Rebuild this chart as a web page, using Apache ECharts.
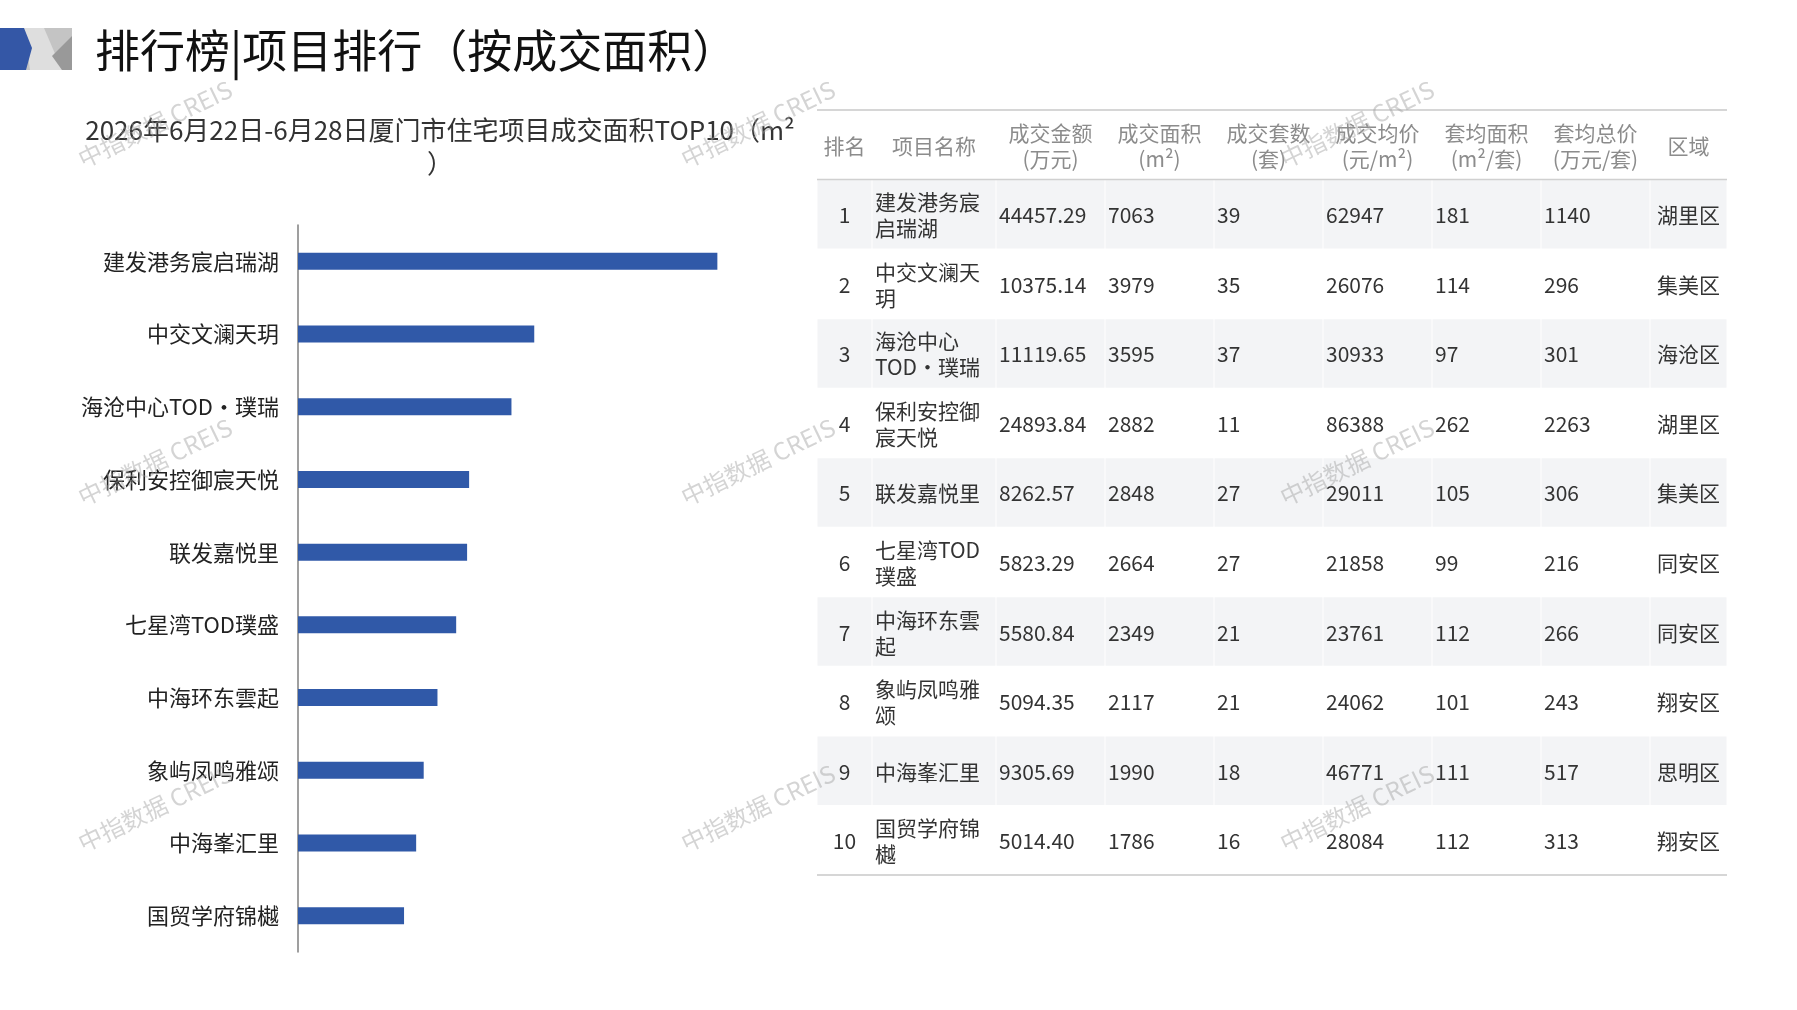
<!DOCTYPE html>
<html>
<head>
<meta charset="utf-8">
<script src="https://cdn.jsdelivr.net/npm/echarts@6/dist/echarts.min.js"></script>
<style>
  html, body { margin: 0; padding: 0; background: #fff; }
  #main { width: 1797px; height: 1010px; }
</style>
</head>
<body>
<div id="main"></div>
<script>
// 项目名称（按成交面积排序）
var projects = ['建发港务宸启瑞湖', '中交文澜天玥', '海沧中心TOD·璞瑞', '保利安控御宸天悦', '联发嘉悦里',
  '七星湾TOD璞盛', '中海环东雲起', '象屿凤鸣雅颂', '中海峯汇里', '国贸学府锦樾'];
var amount = [44457.29, 10375.14, 11119.65, 24893.84, 8262.57, 5823.29, 5580.84, 5094.35, 9305.69, 5014.40];
var area = [7063, 3979, 3595, 2882, 2848, 2664, 2349, 2117, 1990, 1786];
var units = [39, 35, 37, 11, 27, 27, 21, 21, 18, 16];
var price = [62947, 26076, 30933, 86388, 29011, 21858, 23761, 24062, 46771, 28084];
var avgArea = [181, 114, 97, 262, 105, 99, 112, 101, 111, 112];
var avgTotal = [1140, 296, 301, 2263, 306, 216, 266, 243, 517, 313];
var district = ['湖里区', '集美区', '海沧区', '湖里区', '集美区', '同安区', '同安区', '翔安区', '思明区', '翔安区'];
var headers = ['排名', '项目名称', '成交金额\n(万元)', '成交面积\n(m²)', '成交套数\n(套)', '成交均价\n(元/m²)',
  '套均面积\n(m²/套)', '套均总价\n(万元/套)', '区域'];

// 表格列宽（像素）
var colW = [55, 124, 109, 109, 109, 109, 109, 109, 77];
var colX = [];
colW.reduce(function (s, w) { colX.push(s); return s + w; }, 0);
var colAlign = ['center', 'left', 'left', 'left', 'left', 'left', 'left', 'left', 'center'];

var FONT = '"Noto Sans CJK SC", "Noto Sans", sans-serif';

// 单元格数据
var cells = [];
var cellText = [];
headers.forEach(function (h, c) { cells.push([c, -1]); cellText.push(h); });
projects.forEach(function (p, r) {
  var row = [String(r + 1), p, amount[r].toFixed(2), area[r], units[r], price[r], avgArea[r], avgTotal[r], district[r]];
  row.forEach(function (v, c) { cells.push([c, r]); cellText.push(String(v)); });
});

var chart = echarts.init(document.getElementById('main'));

// 水印
var marks = [];
[155, 758, 1357].forEach(function (x) {
  [124, 462, 808].forEach(function (y) {
    marks.push({
      type: 'text', x: x, y: y, rotation: 0.45, z: 100, silent: true,
      style: { text: '中指数据 CREIS', font: '24px ' + FONT, fill: 'rgba(160,160,160,0.45)',
        align: 'center', verticalAlign: 'middle', textAlign: 'center', textVerticalAlign: 'middle' }
    });
  });
});

var option = {
  animation: false,
  title: [
    { text: '排行榜|项目排行（按成交面积）', left: 90, top: 23,
      textStyle: { fontSize: 45, fontWeight: 'normal', color: '#111', fontFamily: FONT } },
    { text: '2026年6月22日-6月28日厦门市住宅项目成交面积TOP10（m²\n）', left: 435, top: 109, textAlign: 'center',
      textStyle: { fontSize: 26, fontWeight: 'normal', color: '#333', lineHeight: 33, fontFamily: FONT } }
  ],
  graphic: [
    { type: 'group', children: [
      { type: 'rect', shape: { x: 0, y: 28, width: 72, height: 42 }, style: { fill: '#c4c4c4' } },
      { type: 'polygon', shape: { points: [[24, 28], [44, 28], [62, 70], [30, 70]] }, style: { fill: '#dedede' } },
      { type: 'polygon', shape: { points: [[72, 36], [72, 70], [62, 70], [52, 56]] }, style: { fill: '#999' } },
      { type: 'polygon', shape: { points: [[0, 28], [24, 28], [32, 48], [26, 70], [0, 70]] }, style: { fill: '#3457a6' } }
    ] }
  ].concat(marks),
  grid: [
    { left: 298, top: 225, width: 475, height: 727 },
    { left: 817, top: 110, width: 910, height: 765 }
  ],
  xAxis: [
    { type: 'value', gridIndex: 0, min: 0, max: 8000, show: false },
    { type: 'value', gridIndex: 1, min: 0, max: 910, show: false }
  ],
  yAxis: [
    { type: 'category', gridIndex: 0, data: projects, inverse: true,
      axisLine: { lineStyle: { color: '#7f7f7f', width: 1.5 } },
      axisTick: { inside: true, length: 5, lineStyle: { color: '#7f7f7f', width: 1.5 } },
      axisLabel: { fontSize: 22, color: '#222', margin: 19, fontFamily: FONT } },
    { type: 'value', gridIndex: 1, min: -1, max: 10, inverse: true, show: false }
  ],
  series: [
    { type: 'bar', xAxisIndex: 0, yAxisIndex: 0, data: area, barWidth: 17,
      itemStyle: { color: '#3059a8' } },
    { type: 'custom', xAxisIndex: 1, yAxisIndex: 1, data: cells, silent: true,
      renderItem: function (params, api) {
        var c = api.value(0), r = api.value(1);
        var p0 = api.coord([colX[c], r]);
        var p1 = api.coord([colX[c] + colW[c], r + 1]);
        var w = p1[0] - p0[0], h = p1[1] - p0[1];
        var isHead = r < 0;
        var align = isHead ? 'center' : colAlign[c];
        var tx = align === 'center' ? p0[0] + w / 2 : p0[0] + 3;
        var children = [];
        if (!isHead && r % 2 === 0) {
          children.push({ type: 'rect', shape: { x: p0[0] + 0.5, y: p0[1] + 0.5, width: w - 1, height: h - 1 },
            style: { fill: '#f3f4f6' } });
        }
        children.push({ type: 'text', style: {
          text: cellText[params.dataIndex], x: tx, y: p0[1] + h / 2 + 1,
          align: align, textAlign: align, verticalAlign: 'middle', textVerticalAlign: 'middle',
          font: '21px ' + FONT, fill: isHead ? '#8c8c8c' : '#333', lineHeight: 26,
          width: c === 1 ? 121 : undefined, overflow: c === 1 ? 'break' : undefined
        } });
        return { type: 'group', children: children };
      } },
    { type: 'custom', xAxisIndex: 1, yAxisIndex: 1, data: [[-1], [0], [10]],
      silent: true, z: 3,
      renderItem: function (params, api) {
        var y = api.coord([0, api.value(0)])[1];
        var item = params.dataIndex;
        var lw = [2, 1.5, 1.5][item], col = ['#d6d6d6', '#d0d0d0', '#c8c8c8'][item];
        return { type: 'line', shape: { x1: params.coordSys.x, y1: y, x2: params.coordSys.x + params.coordSys.width, y2: y },
          style: { stroke: col, lineWidth: lw } };
      } }
  ]
};
chart.setOption(option);
</script>
</body>
</html>
